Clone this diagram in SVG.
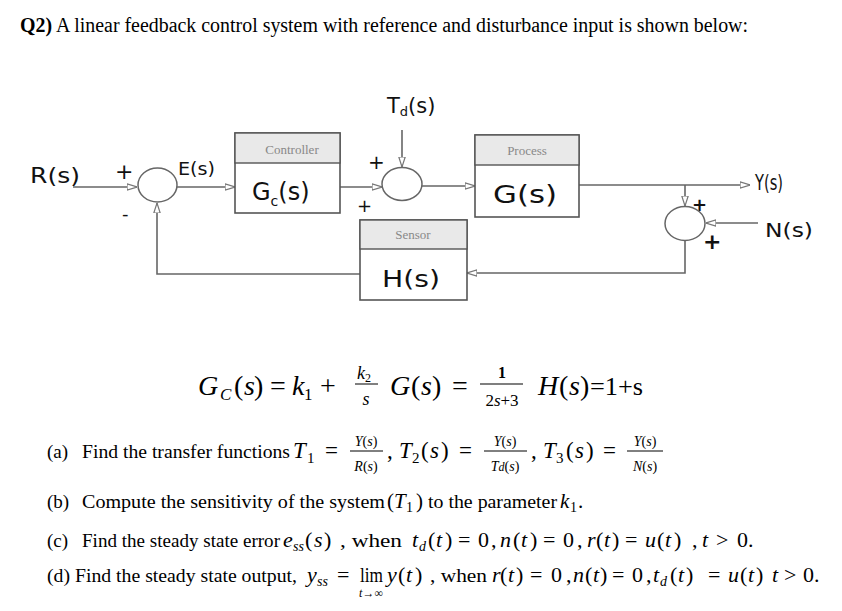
<svg xmlns="http://www.w3.org/2000/svg" width="842" height="611" viewBox="0 0 842 611">
<defs>
<marker id="arr" viewBox="0 0 10 8" refX="10" refY="4" markerWidth="10" markerHeight="8" markerUnits="userSpaceOnUse" orient="auto">
<path d="M0,0.8 L10,4 L0,7.2 Z" fill="#fff" stroke="#777" stroke-width="1.2"/>
</marker>
</defs>
<style>
.ln{fill:none;stroke:#666;stroke-width:1.6}
.box{fill:#fff;stroke:#555;stroke-width:1.6}
.hdr{fill:#e9e9e9;stroke:#555;stroke-width:1.4}
.sum{fill:#fff;stroke:#666;stroke-width:1.5}
.hl{font-family:"DejaVu Sans","Liberation Sans",sans-serif;fill:#111}
.cap{font-family:"Liberation Serif",serif;font-size:13px;fill:#888}
.t{font-family:"Liberation Serif",serif;fill:#000}
.m{font-family:"Liberation Serif",serif;fill:#000}
.i{font-style:italic}
</style>
<rect width="842" height="611" fill="#fff"/>

<text class="t" x="20" y="32" font-size="20" textLength="728" lengthAdjust="spacingAndGlyphs"><tspan font-weight="bold">Q2)</tspan> A linear feedback control system with reference and disturbance input is shown below:</text>

<g id="connectors">
<path class="ln" d="M73 187 H137" marker-end="url(#arr)"/>
<path class="ln" d="M177 187 H235" marker-end="url(#arr)"/>
<path class="ln" d="M340 187 H382" marker-end="url(#arr)"/>
<path class="ln" d="M402 130 V167" marker-end="url(#arr)"/>
<path class="ln" d="M422 186 H475" marker-end="url(#arr)"/>
<path class="ln" d="M579 185 H750" marker-end="url(#arr)"/>
<path class="ln" d="M685 185 V206" marker-end="url(#arr)"/>
<path class="ln" d="M758 223 H706" marker-end="url(#arr)"/>
<path class="ln" d="M685 240 V273 H467" marker-end="url(#arr)"/>
<path class="ln" d="M360 274 H157 V203" marker-end="url(#arr)"/>
</g>

<g id="labels">
<text class="hl" x="30" y="183" font-size="21" textLength="50" lengthAdjust="spacingAndGlyphs">R(s)</text>
<text class="hl" x="115" y="179" font-size="22">+</text>
<text class="hl" x="122" y="220" font-size="18">-</text>
<text class="hl" x="178" y="175" font-size="18" textLength="37" lengthAdjust="spacingAndGlyphs">E(s)</text>
<text class="hl" x="387" y="113" font-size="21">T<tspan font-size="13" dy="3">d</tspan><tspan dy="-3">(s)</tspan></text>
<text class="hl" x="368" y="169" font-size="20">+</text>
<text class="hl" x="357" y="212" font-size="18">+</text>
<text class="hl" x="755" y="190" font-size="21" textLength="28" lengthAdjust="spacingAndGlyphs">Y(s)</text>
<text class="hl" x="765" y="237" font-size="19" textLength="48" lengthAdjust="spacingAndGlyphs">N(s)</text>
<text class="hl" x="692" y="211" font-size="18" font-weight="bold">+</text>
<text class="hl" x="703" y="249" font-size="22" font-weight="bold">+</text>
</g>

<g id="sum1"><ellipse class="sum" cx="157.5" cy="185" rx="19.5" ry="17"/></g>
<g id="sum2"><ellipse class="sum" cx="402" cy="184" rx="20" ry="16.5"/></g>
<g id="sum3"><ellipse class="sum" cx="685" cy="223.5" rx="20" ry="17"/></g>

<g id="controller">
<rect class="box" x="235" y="133" width="105" height="80"/>
<rect class="hdr" x="235" y="133" width="105" height="30"/>
<text class="cap" x="292" y="154" text-anchor="middle">Controller</text>
<text class="hl" x="252" y="200" font-size="24">G<tspan font-size="14" dy="6">c</tspan><tspan dy="-6">(s)</tspan></text>
</g>

<g id="process">
<rect class="box" x="475" y="135" width="104" height="82"/>
<rect class="hdr" x="475" y="135" width="104" height="30"/>
<text class="cap" x="527" y="155" text-anchor="middle">Process</text>
<text class="hl" x="493" y="203" font-size="25" textLength="64" lengthAdjust="spacingAndGlyphs">G(s)</text>
</g>

<g id="sensor">
<rect class="box" x="360" y="220" width="107" height="80"/>
<rect class="hdr" x="360" y="220" width="107" height="29"/>
<text class="cap" x="413" y="239" text-anchor="middle">Sensor</text>
<text class="hl" x="382" y="287" font-size="23" textLength="58" lengthAdjust="spacingAndGlyphs">H(s)</text>
</g>

<g id="equations">
<text class="m" y="395" font-size="28"><tspan class="i" x="198">G</tspan><tspan class="i" x="220" dy="5" font-size="17">C</tspan><tspan x="234" dy="-5">(</tspan><tspan class="i" x="244">s</tspan><tspan x="254">)</tspan><tspan x="270">=</tspan><tspan class="i" x="292">k</tspan><tspan x="304" dy="5" font-size="17">1</tspan><tspan x="320" dy="-5">+</tspan></text>
<text class="m" x="357" y="379" font-size="18"><tspan class="i">k</tspan><tspan font-size="12" dy="3">2</tspan></text>
<line x1="355" y1="384" x2="378" y2="384" stroke="#000" stroke-width="1"/>
<text class="m i" x="366" y="405" font-size="18" text-anchor="middle">s</text>
<text class="m" y="395" font-size="28"><tspan class="i" x="390">G</tspan><tspan x="411">(</tspan><tspan class="i" x="421">s</tspan><tspan x="432">)</tspan><tspan x="452">=</tspan></text>
<text class="m" x="502" y="378" font-size="16" text-anchor="middle" font-weight="bold">1</text>
<line x1="480" y1="384" x2="523" y2="384" stroke="#000" stroke-width="1.2"/>
<text class="m" x="502" y="406" font-size="17" text-anchor="middle">2<tspan class="i">s</tspan>+3</text>
<text class="m" y="395" font-size="28"><tspan class="i" x="538">H</tspan><tspan x="559">(</tspan><tspan class="i" x="569">s</tspan><tspan x="580">)</tspan></text>
<text class="t" x="590" y="395" font-size="25" textLength="53" lengthAdjust="spacingAndGlyphs">=1+s</text>
</g>

<g id="questions">
<text class="t" x="47" y="458" font-size="19">(a)</text>
<text class="t" x="82" y="458" font-size="19" textLength="208" lengthAdjust="spacingAndGlyphs">Find the transfer functions</text>
<text class="m" y="458" font-size="23"><tspan class="i" x="293">T</tspan><tspan x="307" dy="5" font-size="15">1</tspan><tspan x="325" dy="-5">=</tspan></text>
<text class="m" x="366" y="446" font-size="14" text-anchor="middle"><tspan class="i">Y</tspan>(<tspan class="i">s</tspan>)</text>
<line x1="350" y1="451" x2="383" y2="451" stroke="#000" stroke-width="1"/>
<text class="m" x="366" y="471" font-size="14" text-anchor="middle"><tspan class="i">R</tspan>(<tspan class="i">s</tspan>)</text>
<text class="m" y="458" font-size="23"><tspan x="387">,</tspan><tspan class="i" x="399">T</tspan><tspan x="412" dy="5" font-size="15">2</tspan><tspan x="421" dy="-5">(</tspan><tspan class="i" x="430">s</tspan><tspan x="441">)</tspan><tspan x="459">=</tspan></text>
<text class="m" x="505" y="446" font-size="14" text-anchor="middle"><tspan class="i">Y</tspan>(<tspan class="i">s</tspan>)</text>
<line x1="484" y1="451" x2="527" y2="451" stroke="#000" stroke-width="1"/>
<text class="m" x="505" y="471" font-size="14" text-anchor="middle"><tspan class="i">T</tspan><tspan class="i" font-size="12">d</tspan>(<tspan class="i">s</tspan>)</text>
<text class="m" y="458" font-size="23"><tspan x="531">,</tspan><tspan class="i" x="543">T</tspan><tspan x="556" dy="5" font-size="15">3</tspan><tspan x="566" dy="-5">(</tspan><tspan class="i" x="575">s</tspan><tspan x="586">)</tspan><tspan x="603">=</tspan></text>
<text class="m" x="645" y="446" font-size="14" text-anchor="middle"><tspan class="i">Y</tspan>(<tspan class="i">s</tspan>)</text>
<line x1="627" y1="451" x2="663" y2="451" stroke="#000" stroke-width="1"/>
<text class="m" x="645" y="471" font-size="14" text-anchor="middle"><tspan class="i">N</tspan>(<tspan class="i">s</tspan>)</text>

<text class="t" x="47" y="508" font-size="19">(b)</text>
<text class="t" x="82" y="508" font-size="19" textLength="303" lengthAdjust="spacingAndGlyphs">Compute the sensitivity of the system</text>
<text class="m" y="508" font-size="21"><tspan x="387">(</tspan><tspan class="i" x="394">T</tspan><tspan x="406" dy="4" font-size="14">1</tspan><tspan x="416" dy="-4">)</tspan></text>
<text class="t" x="428" y="508" font-size="19" textLength="129" lengthAdjust="spacingAndGlyphs">to the parameter</text>
<text class="m" y="508" font-size="21"><tspan class="i" x="560">k</tspan><tspan x="570" font-size="14" dy="4">1</tspan><tspan x="578" dy="-4">.</tspan></text>

<text class="t" x="47" y="547" font-size="19">(c)</text>
<text class="t" x="82" y="547" font-size="19" textLength="198" lengthAdjust="spacingAndGlyphs">Find the steady state error</text>
<text class="m" y="547" font-size="22"><tspan class="i" x="283">e</tspan><tspan class="i" x="293" font-size="14" dy="4">ss</tspan><tspan x="305" dy="-4">(</tspan><tspan class="i" x="314">s</tspan><tspan x="324">)</tspan></text>
<text class="t" x="340" y="547" font-size="19" textLength="62" lengthAdjust="spacingAndGlyphs">, when</text>
<text class="m" y="547" font-size="22"><tspan class="i" x="412">t</tspan><tspan class="i" x="419" font-size="14" dy="4">d</tspan><tspan x="428" dy="-4">(</tspan><tspan class="i" x="436">t</tspan><tspan x="445">)</tspan><tspan x="458">=</tspan><tspan x="478">0</tspan><tspan x="491">,</tspan><tspan class="i" x="500">n</tspan><tspan x="513">(</tspan><tspan class="i" x="521">t</tspan><tspan x="530">)</tspan><tspan x="543">=</tspan><tspan x="563">0</tspan><tspan x="577">,</tspan><tspan class="i" x="587">r</tspan><tspan x="596">(</tspan><tspan class="i" x="604">t</tspan><tspan x="612">)</tspan><tspan x="625">=</tspan><tspan class="i" x="645">u</tspan><tspan x="657">(</tspan><tspan class="i" x="665">t</tspan><tspan x="674">)</tspan><tspan x="692">,</tspan><tspan class="i" x="702">t</tspan><tspan x="716">&gt;</tspan><tspan x="737">0.</tspan></text>

<text class="t" x="47" y="582" font-size="19" textLength="250" lengthAdjust="spacingAndGlyphs">(d) Find the steady state output,</text>
<text class="m" y="582" font-size="22"><tspan class="i" x="307">y</tspan><tspan class="i" x="317" font-size="14" dy="4">ss</tspan><tspan x="337" dy="-4">=</tspan></text>
<text class="m" x="360" y="582" font-size="20" textLength="23" lengthAdjust="spacingAndGlyphs">lim</text>
<text class="m" y="582" font-size="22"><tspan class="i" x="387">y</tspan><tspan x="398">(</tspan><tspan class="i" x="406">t</tspan><tspan x="415">)</tspan></text>
<text class="m" x="371" y="597" font-size="12" text-anchor="middle"><tspan class="i">t</tspan>→∞</text>
<text class="t" x="430" y="582" font-size="19" textLength="57" lengthAdjust="spacingAndGlyphs">, when</text>
<text class="m" y="582" font-size="22"><tspan class="i" x="492">r</tspan><tspan x="500">(</tspan><tspan class="i" x="508">t</tspan><tspan x="516">)</tspan><tspan x="530">=</tspan><tspan x="551">0</tspan><tspan x="566">,</tspan><tspan class="i" x="573">n</tspan><tspan x="585">(</tspan><tspan class="i" x="593">t</tspan><tspan x="600">)</tspan><tspan x="612">=</tspan><tspan x="632">0</tspan><tspan x="646">,</tspan><tspan class="i" x="653">t</tspan><tspan class="i" x="660" font-size="14" dy="4">d</tspan><tspan x="670" dy="-4">(</tspan><tspan class="i" x="678">t</tspan><tspan x="686">)</tspan><tspan x="708">=</tspan><tspan class="i" x="728">u</tspan><tspan x="740">(</tspan><tspan class="i" x="748">t</tspan><tspan x="756">)</tspan><tspan class="i" x="772">t</tspan><tspan x="784">&gt;</tspan><tspan x="803">0.</tspan></text>
</g>
</svg>
